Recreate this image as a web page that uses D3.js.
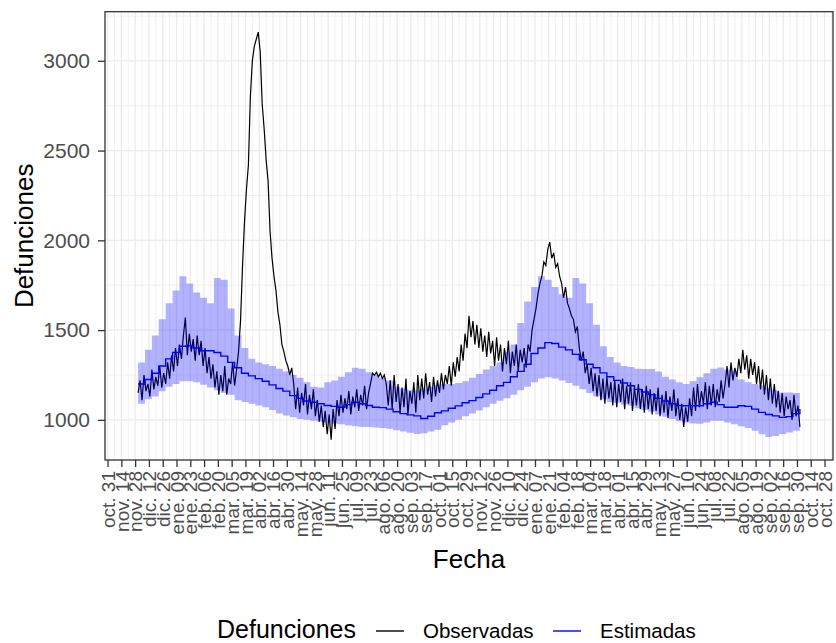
<!DOCTYPE html>
<html>
<head>
<meta charset="utf-8">
<script src="https://cdn.jsdelivr.net/npm/d3@7"></script>
<style>
  body { margin: 0; background: #fff; }
  svg { display: block; font-family: "Liberation Sans", Arial, sans-serif; }
</style>
</head>
<body>
<svg id="chart" width="836" height="643"></svg>
<script>
// observed deaths, one value every 2 days starting 2019-12-01
const obsValues = [
  1150, 1220, 1110, 1250, 1160, 1200, 1130, 1280, 1170, 1240, 1190, 1300, 1180, 1260, 1200,
  1320, 1230, 1360, 1270, 1400, 1300, 1420, 1340, 1470, 1570, 1360, 1480, 1380, 1450, 1330, 1470,
  1360, 1440, 1300, 1400, 1260, 1350, 1230, 1310, 1180, 1270, 1140, 1250, 1160, 1300, 1140, 1230, 1200, 1320, 1190, 1280,
  1380, 1550, 1850, 2100, 2280, 2420, 2800, 3000, 3080, 3120, 3160, 3050, 2760, 2620, 2450,
  2330, 2050, 1900, 1800, 1720, 1600, 1530, 1420, 1380, 1330, 1300, 1250, 1290, 1200,
  1060, 1180, 1040, 1150, 1080, 1200, 1030, 1140, 1060, 1170, 1020, 1110,
  990, 1080, 960, 1050, 920, 1030, 890, 1060, 950,
  1110, 1020, 1140, 1040, 1120, 1060, 1160, 1030, 1130, 1070, 1170, 1050, 1140, 1080, 1190, 1060, 1150, 1200,
  1260, 1250, 1265, 1240, 1260, 1230, 1250, 1200,
  1080, 1220, 1060, 1250, 1100, 1200, 1040, 1180, 1070, 1230, 1030, 1160, 1090, 1210, 1040, 1250, 1110,
  1230, 1120, 1260, 1140, 1210, 1100, 1240, 1130, 1220, 1150, 1260, 1170, 1250, 1200,
  1300, 1190, 1320, 1240, 1350, 1270,
  1420, 1330, 1480, 1400, 1580, 1460, 1550, 1420, 1530,
  1400, 1510, 1380, 1470, 1350, 1490, 1370, 1440, 1300, 1460, 1330, 1420, 1270, 1400, 1310,
  1440, 1260, 1380, 1300, 1420, 1270, 1390, 1320, 1400, 1290,
  1420, 1380, 1500, 1560, 1620, 1700, 1760, 1800, 1880, 1860, 1950, 1990, 1900, 1930, 1850,
  1870, 1800, 1760, 1680, 1740, 1650, 1620, 1580, 1560, 1490, 1520, 1400, 1330, 1380, 1260,
  1310, 1200, 1290, 1160, 1260, 1130, 1250, 1110, 1230, 1090, 1240, 1120, 1210, 1080, 1220, 1070,
  1200, 1100, 1230, 1060, 1190, 1090, 1210, 1050, 1180, 1080, 1200, 1060, 1170, 1040, 1190,
  1060, 1170, 1030, 1150, 1050, 1180, 1020, 1140, 1040, 1160, 1010, 1130, 1050, 1170, 1020, 1120, 1000,
  1090, 960, 1070, 990, 1120, 1020,
  1180, 1050, 1200, 1070, 1160, 1090, 1210, 1060, 1190, 1080, 1200, 1070, 1170, 1100, 1220, 1120, 1200,
  1300, 1180, 1320, 1220, 1290, 1240, 1340, 1260, 1390, 1280, 1360, 1230, 1340, 1250, 1320, 1200, 1300,
  1170, 1280, 1140, 1250, 1110, 1230, 1090, 1200, 1070, 1160, 1040, 1150, 1020, 1130, 1060, 1110,
  1000, 1140, 1020, 1080, 960
];

// weekly estimate and its interval, starting 2019-12-01
const estValues = [
  1200, 1225, 1260, 1300, 1340, 1375, 1410, 1413, 1400, 1385,
  1385, 1375, 1355, 1320, 1290, 1260, 1245, 1230, 1215, 1195,
  1175, 1160, 1135, 1120, 1105, 1098, 1090, 1080, 1075, 1070,
  1085, 1098, 1090, 1080, 1070, 1068, 1060, 1045, 1035, 1028,
  1022, 1008, 1020, 1040, 1050, 1065, 1078, 1095, 1107, 1125,
  1145, 1165, 1190, 1209, 1240, 1270, 1310, 1370, 1400, 1430,
  1425, 1405, 1390, 1365, 1335, 1310, 1290, 1262, 1240, 1220,
  1205, 1190, 1170, 1155, 1140, 1120, 1105, 1090, 1080, 1079,
  1079, 1079, 1090, 1098, 1085, 1070, 1070, 1079, 1075, 1060,
  1042, 1030, 1022, 1014, 1018, 1035, 1061
];
const bandLower = [
  1090, 1115, 1130, 1160, 1185, 1200, 1215, 1215, 1210, 1195,
  1180, 1165, 1150, 1140, 1110, 1100, 1090, 1080, 1070, 1055,
  1035, 1025, 1015, 1005, 1000, 995, 990, 985, 978, 975,
  968, 965, 960, 960, 958, 955, 950, 942, 935, 928,
  922, 925, 935, 945, 970, 985, 1000, 1020, 1035, 1052,
  1070, 1090, 1107, 1120, 1140, 1165, 1185, 1210, 1230, 1237,
  1230, 1220, 1205, 1190, 1170, 1150, 1130, 1115, 1100, 1095,
  1085, 1078, 1065, 1055, 1045, 1030, 1018, 1005, 992, 985,
  980, 978, 985, 995, 995, 985, 975, 965, 955, 940,
  920, 905, 910, 922, 930, 940, 945
];
const bandUpper = [
  1320, 1390, 1470, 1560, 1650, 1720, 1800, 1760, 1710, 1680,
  1650, 1790, 1780, 1620, 1470, 1400, 1340, 1320, 1310, 1300,
  1285, 1270, 1250, 1235, 1210, 1185, 1180, 1210, 1220, 1240,
  1265, 1290, 1285, 1265, 1250, 1235, 1220, 1185, 1175, 1165,
  1165, 1175, 1185, 1195, 1200, 1200, 1205, 1215, 1235, 1255,
  1280, 1300, 1320, 1380, 1420, 1540, 1660, 1740, 1800, 1780,
  1740, 1700, 1680, 1790, 1760, 1650, 1530, 1410, 1350, 1320,
  1300, 1295, 1285, 1283, 1283, 1270, 1240, 1225, 1210, 1200,
  1215, 1237, 1260, 1285, 1292, 1280, 1275, 1225, 1210, 1200,
  1190, 1180, 1165, 1153, 1153, 1150, 1153
];

const xTickLabels = [
  'oct. 31', 'nov. 14', 'nov. 28', 'dic. 12', 'dic. 26',
  'ene. 09', 'ene. 23', 'feb. 06', 'feb. 20', 'mar. 05', 'mar. 19', 'abr. 02', 'abr. 16',
  'abr. 30', 'may. 14', 'may. 28', 'jun. 11', 'jun. 25', 'jul. 09', 'jul. 23', 'ago. 06',
  'ago. 20', 'sep. 03', 'sep. 17', 'oct. 01', 'oct. 15', 'oct. 29', 'nov. 12', 'nov. 26',
  'dic. 10', 'dic. 24',
  'ene. 07', 'ene. 21', 'feb. 04', 'feb. 18', 'mar. 04', 'mar. 18', 'abr. 01', 'abr. 15',
  'abr. 29', 'may. 13', 'may. 27', 'jun. 10', 'jun. 24', 'jul. 08', 'jul. 22', 'ago. 05',
  'ago. 19', 'sep. 02', 'sep. 16', 'sep. 30', 'oct. 14', 'oct. 28'
];
const yTicks = [1000, 1500, 2000, 2500, 3000];

const DAY = 864e5;
const startDate = new Date(Date.UTC(2019, 11, 1));
const firstTick = new Date(Date.UTC(2019, 9, 31));

const obs = obsValues.map((v, i) => ({ date: new Date(+startDate + i * 2 * DAY), value: v }));
const weekly = estValues.map((v, i) => ({
  date: new Date(+startDate + i * 7 * DAY), est: v, lo: bandLower[i], hi: bandUpper[i]
}));
const ticks = xTickLabels.map((t, i) => ({ date: new Date(+firstTick + i * 14 * DAY), label: t }));

const panel = { left: 105, right: 833, top: 11.7, bottom: 460 };
const svg = d3.select('#chart');
svg.append('rect').attr('width', 836).attr('height', 643).attr('fill', '#fff');

// ggplot-like 5% expansion
const xExt = d3.extent(obs.concat(weekly), d => +d.date);
const xPad = (xExt[1] - xExt[0]) * 0.05;
const x = d3.scaleUtc().domain([xExt[0] - xPad, xExt[1] + xPad]).range([panel.left, panel.right]);

const allY = obsValues.concat(bandLower, bandUpper, estValues);
const yExt = d3.extent(allY);
const yPad = (yExt[1] - yExt[0]) * 0.05;
const y = d3.scaleLinear().domain([yExt[0] - yPad, yExt[1] + yPad]).range([panel.bottom, panel.top]);

const grid = svg.append('g');
// minor grid
const minorX = ticks.map(t => new Date(+t.date + 7 * DAY)).filter(d => x(d) < panel.right);
grid.selectAll('.vminor').data(minorX).join('line')
  .attr('x1', d => x(d)).attr('x2', d => x(d))
  .attr('y1', panel.top).attr('y2', panel.bottom)
  .attr('stroke', '#EBEBEB').attr('stroke-width', 0.7);
const minorY = yTicks.map(v => v + 250).concat([yTicks[0] - 250]).filter(v => v > y.domain()[0] && v < y.domain()[1]);
grid.selectAll('.hminor').data(minorY).join('line')
  .attr('x1', panel.left).attr('x2', panel.right)
  .attr('y1', d => y(d)).attr('y2', d => y(d))
  .attr('stroke', '#EBEBEB').attr('stroke-width', 0.7);
// major grid
grid.selectAll('.vmajor').data(ticks).join('line')
  .attr('x1', d => x(d.date)).attr('x2', d => x(d.date))
  .attr('y1', panel.top).attr('y2', panel.bottom)
  .attr('stroke', '#EBEBEB').attr('stroke-width', 1.3);
grid.selectAll('.hmajor').data(yTicks).join('line')
  .attr('x1', panel.left).attr('x2', panel.right)
  .attr('y1', d => y(d)).attr('y2', d => y(d))
  .attr('stroke', '#EBEBEB').attr('stroke-width', 1.3);

// observed line (under the ribbon)
svg.append('path').datum(obs)
  .attr('d', d3.line().x(d => x(d.date)).y(d => y(d.value)))
  .attr('fill', 'none').attr('stroke', '#000').attr('stroke-width', 1.2);

svg.append('path').datum(weekly)
  .attr('d', d3.area().curve(d3.curveStepAfter).x(d => x(d.date)).y0(d => y(d.lo)).y1(d => y(d.hi)))
  .attr('fill', 'blue').attr('fill-opacity', 0.3);

svg.append('path').datum(weekly)
  .attr('d', d3.line().curve(d3.curveStepAfter).x(d => x(d.date)).y(d => y(d.est)))
  .attr('fill', 'none').attr('stroke', 'blue').attr('stroke-width', 1.4);

// panel border
svg.append('rect')
  .attr('x', panel.left).attr('y', panel.top)
  .attr('width', panel.right - panel.left).attr('height', panel.bottom - panel.top)
  .attr('fill', 'none').attr('stroke', '#333333').attr('stroke-width', 1.3);

// axes
const xAxis = svg.append('g')
  .attr('transform', `translate(0,${panel.bottom})`)
  .call(d3.axisBottom(x).tickValues(ticks.map(t => t.date)).tickSize(7)
    .tickFormat((d, i) => ticks[i].label));
xAxis.select('.domain').remove();
xAxis.selectAll('line').attr('stroke', '#333333').attr('stroke-width', 1.3);
xAxis.selectAll('text')
  .attr('transform', 'rotate(-90)')
  .attr('text-anchor', 'end')
  .attr('x', -11).attr('y', 0).attr('dy', '0.35em')
  .attr('fill', '#4D4D4D').attr('font-size', 19);

const yAxis = svg.append('g')
  .attr('transform', `translate(${panel.left},0)`)
  .call(d3.axisLeft(y).tickValues(yTicks).tickSize(7).tickPadding(8).tickFormat(d3.format('d')));
yAxis.select('.domain').remove();
yAxis.selectAll('line').attr('stroke', '#333333').attr('stroke-width', 1.3);
yAxis.selectAll('text').attr('fill', '#4D4D4D').attr('font-size', 21);

// axis titles
svg.append('text')
  .attr('x', (panel.left + panel.right) / 2).attr('y', 568)
  .attr('text-anchor', 'middle').attr('font-size', 26).attr('fill', '#000')
  .text('Fecha');
svg.append('text')
  .attr('transform', `translate(33,${(panel.top + panel.bottom) / 2}) rotate(-90)`)
  .attr('text-anchor', 'middle').attr('font-size', 26).attr('fill', '#000')
  .text('Defunciones');

// legend
const legend = svg.append('g');
legend.append('text').attr('x', 217).attr('y', 638).attr('font-size', 25).text('Defunciones');
const keys = [
  { label: 'Observadas', color: '#000', x: 376 },
  { label: 'Estimadas', color: 'blue', x: 553 }
];
legend.selectAll('.key').data(keys).join('line')
  .attr('x1', d => d.x).attr('x2', d => d.x + 28)
  .attr('y1', 631).attr('y2', 631)
  .attr('stroke', d => d.color).attr('stroke-width', 1.4);
legend.selectAll('.lab').data(keys).join('text')
  .attr('x', d => d.x + 47).attr('y', 638)
  .attr('font-size', 20.5).attr('fill', '#000')
  .text(d => d.label);
</script>
</body>
</html>
